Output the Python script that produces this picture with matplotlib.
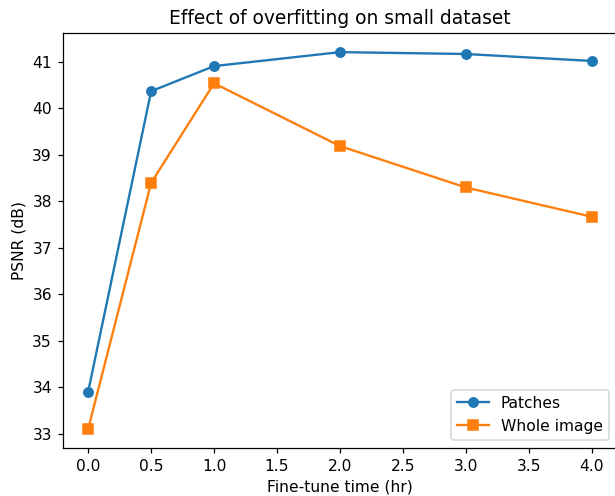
import matplotlib
matplotlib.use("Agg")
import matplotlib.pyplot as plt

# fine-tune time (hr)
times = [0.0, 0.5, 1.0, 2.0, 3.0, 4.0]
psnr_patches = [33.91, 40.37, 40.91, 41.21, 41.17, 41.02]
psnr_whole = [33.11, 38.40, 40.54, 39.19, 38.30, 37.67]

dpi = 112
fig, ax = plt.subplots(figsize=(615 / dpi, 496 / dpi), dpi=dpi)
# axes runs slightly past the right edge, like the original crop
fig.subplots_adjust(left=63 / 615, right=617 / 615, top=1 - 33.3 / 496, bottom=1 - 447.7 / 496)

ax.plot(times, psnr_patches, 'o-', label='Patches')
ax.plot(times, psnr_whole, 's-', label='Whole image')

ax.set_xlabel('Fine-tune time (hr)')
ax.set_ylabel('PSNR (dB)')
ax.set_title('Effect of overfitting on small dataset')
ax.legend(loc='lower right')

fig.savefig('out.png', dpi=dpi)
